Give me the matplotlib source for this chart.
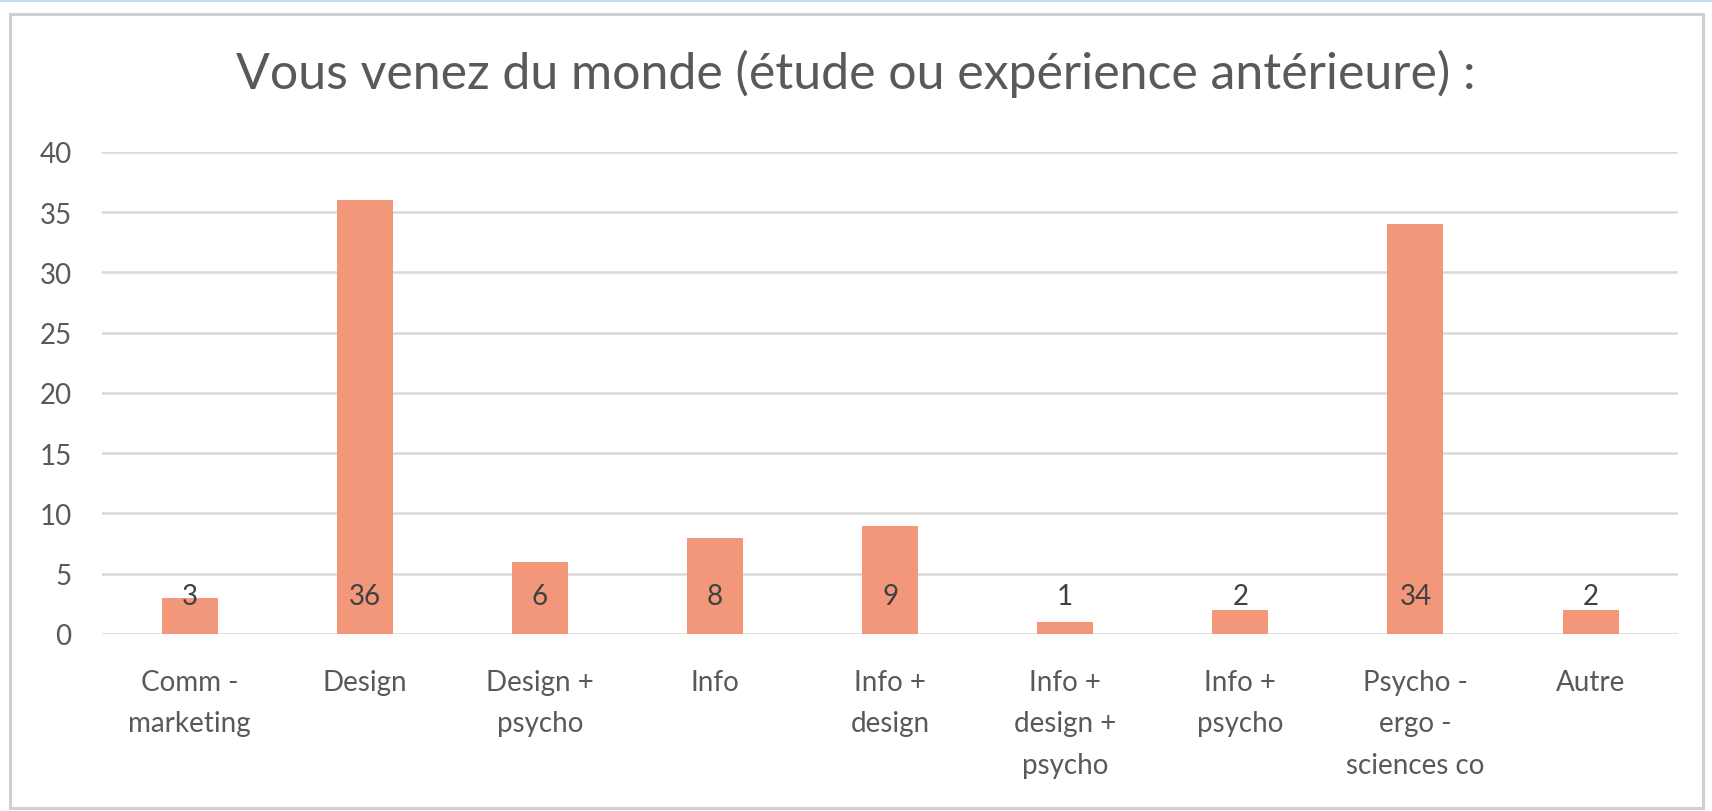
import matplotlib
matplotlib.use('Agg')
from matplotlib import pyplot as plt
from matplotlib.patches import Rectangle
from matplotlib.lines import Line2D
import numpy as np

# data
categories = ['Comm -\nmarketing', 'Design', 'Design +\npsycho', 'Info', 'Info +\ndesign',
              'Info +\ndesign +\npsycho', 'Info +\npsycho', 'Psycho -\nergo -\nsciences co', 'Autre']
counts = [3, 36, 6, 8, 9, 1, 2, 34, 2]
yticks = [0, 5, 10, 15, 20, 25, 30, 35, 40]
title = 'Vous venez du monde (étude ou expérience antérieure) :'

plt.rcParams['font.family'] = ['Lato', 'DejaVu Sans']
txt = '#595959'

fig = plt.figure(figsize=(17.12, 8.12), dpi=100)
fig.patch.set_facecolor('white')

# chart frame
fig.add_artist(Rectangle((0.006, 0.004), 0.989, 0.978, transform=fig.transFigure,
                         fill=False, edgecolor='#D0D0D0', linewidth=2.2))
fig.add_artist(Line2D([0, 1], [0.997, 0.997], transform=fig.transFigure,
                      color='#BFDDE6', linewidth=1.5))

ax = fig.add_axes((0.0596, 0.218, 0.9206, 0.5936))
x = np.arange(len(categories))
ax.bar(x, counts, width=0.32, color='#F2977A', zorder=3)

for xi, v in zip(x, counts):
    ax.annotate(str(v), xy=(xi, 0), xytext=(0, 27), textcoords='offset points',
                ha='center', va='center', fontsize=20, color='#404040', zorder=4)

ax.set_xlim(-0.5, len(categories) - 0.5)
ax.set_ylim(0, 40)
ax.set_yticks(yticks)
ax.yaxis.grid(True, color='#D9D9D9', linewidth=1.8, zorder=0)
ax.set_axisbelow(True)
for s in ax.spines.values():
    s.set_visible(False)
ax.tick_params(axis='both', length=0, labelsize=20, labelcolor=txt)
ax.tick_params(axis='y', pad=22)
ax.set_xticks(x)
ax.set_xticklabels(categories, linespacing=1.75, va='top')
ax.tick_params(axis='x', pad=25)

fig.text(0.5, 0.909, title, ha='center', va='center', fontsize=36, color=txt)

fig.savefig('out.png', dpi=100)
